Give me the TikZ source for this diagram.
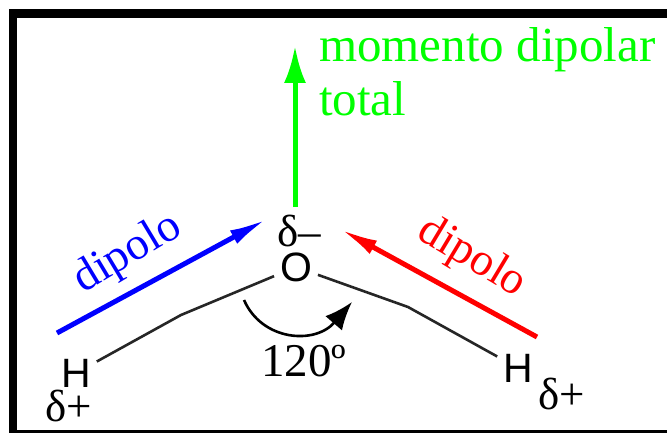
\documentclass[tikz,border=0pt]{standalone}
\usepackage{fontspec}
\setmainfont{Liberation Serif}
\newfontfamily\atomfont{Liberation Sans}
\usetikzlibrary{arrows.meta,positioning}

\begin{document}
\begin{tikzpicture}[
  x=1pt, y=-1pt,
  >=Latex,
  atom/.style={inner sep=0pt, outer sep=6pt, font=\atomfont\fontsize{41}{41}\selectfont},
  charge/.style={inner sep=0pt, font=\fontsize{45}{45}\selectfont},
  dipolelabel/.style={inner sep=0pt, font=\fontsize{46}{46}\selectfont},
  bond/.style={draw=black!85, line width=2.6pt},
  dipolearr/.style={line width=5pt, -{Latex[length=38pt,width=15pt]}},
  anglearr/.style={black, line width=2.6pt, -{Latex[length=28pt,width=22pt]}}
]
\useasboundingbox (0,0) rectangle (667,433);
\fill[white] (0,0) rectangle (667,433);

% Frame
\draw[line width=8.5pt] (13,433) -- (13,13.5) -- (667,13.5);
\draw[line width=3pt] (13,431.5) -- (667,431.5);

% Atoms
\node[atom] (oxy) at (296,267) {O};
\node[atom] (hleft) at (76,373) {H};
\node[atom] (hright) at (518,368) {H};

% Charges
\node[charge] (qoxy) at (299,231) {δ–};
\node[charge] (qleft) at (69,406) {δ+};
\node[charge] (qright) at (562,394) {δ+};

% Bonds
\coordinate (bendl) at (181,315);
\coordinate (bendr) at (408,307);
\draw[bond] (hleft) -- (bendl) -- (oxy);
\draw[bond] (hright) -- (bendr) -- (oxy);

% Dipoles
\coordinate (bluetail) at (57,333);
\coordinate (bluehead) at (267,219);
\coordinate (redtail) at (537,337);
\coordinate (redhead) at (340,229);
\coordinate (greentail) at (295,207);
\coordinate (greenhead) at (295,46);
\draw[dipolearr, blue] (bluetail) -- (bluehead);
\draw[dipolearr, red] (redtail) -- (redhead);
\draw[dipolearr, green, -{Latex[length=37pt,width=22pt]}] (greentail) -- (greenhead);

% Angle
\coordinate (angstart) at (244,300);
\coordinate (angend) at (352,302);
\draw[anglearr] (angstart) .. controls (262,341) and (315,345) .. (angend);
\node[charge, font=\fontsize{47}{47}\selectfont] (angle) at (304,361) {120º};

% Labels
\node[dipolelabel, blue, rotate=31] (dipblue) at (128,254) {dipolo};
\node[dipolelabel, red, rotate=-31] (dipred) at (472,258) {dipolo};
\node[inner sep=0pt, green, align=left, anchor=north west, font=\fontsize{49}{54}\selectfont] (total) at (319,27) {momento dipolar\\total};
\end{tikzpicture}
\end{document}
